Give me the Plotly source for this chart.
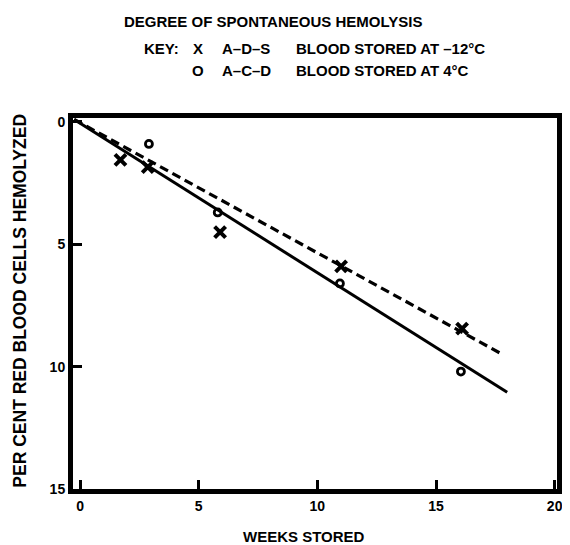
import plotly.graph_objects as go

# Data
ads_weeks = [1.7, 2.85, 5.9, 11.0, 16.1]
ads_hemolysis = [1.55, 1.85, 4.5, 5.9, 8.45]
acd_weeks = [2.9, 5.8, 10.95, 16.05]
acd_hemolysis = [0.9, 3.7, 6.6, 10.2]

ads_fit_weeks = [-0.25, 17.8]
ads_fit_values = [-0.1, 9.5]
acd_fit_weeks = [-0.25, 18.0]
acd_fit_values = [-0.1, 11.05]

x_ticks = [0, 5, 10, 15, 20]
y_ticks = [0, 5, 10, 15]

FONT = "Liberation Sans"
fig = go.Figure()

fig.add_trace(go.Scatter(x=ads_fit_weeks, y=ads_fit_values, mode="lines",
                         line=dict(color="black", width=3.2, dash="9px,5px"),
                         showlegend=False, hoverinfo="skip"))
fig.add_trace(go.Scatter(x=acd_fit_weeks, y=acd_fit_values, mode="lines",
                         line=dict(color="black", width=3),
                         showlegend=False, hoverinfo="skip"))
fig.add_trace(go.Scatter(x=ads_weeks, y=ads_hemolysis, mode="markers",
                         marker=dict(symbol="x-thin", size=11,
                                     line=dict(color="black", width=4)),
                         showlegend=False))
fig.add_trace(go.Scatter(x=acd_weeks, y=acd_hemolysis, mode="markers",
                         marker=dict(symbol="circle-open", size=7, color="black",
                                     line=dict(color="black", width=2.8)),
                         showlegend=False))

tickfont = dict(family=FONT, size=14, color="black", weight="bold")
fig.update_xaxes(range=[-0.3, 20.1], tickvals=x_ticks, ticktext=[str(v) for v in x_ticks],
                 showgrid=False, zeroline=False, showline=True, linecolor="black",
                 linewidth=5, mirror=True, ticks="inside", ticklen=9, tickwidth=3,
                 tickcolor="black", tickfont=tickfont)
fig.update_yaxes(range=[15, -0.16], tickvals=y_ticks, ticktext=[str(v) for v in y_ticks],
                 showgrid=False, zeroline=False, showline=True, linecolor="black",
                 linewidth=5, mirror=True, ticks="inside", ticklen=9, tickwidth=3,
                 tickcolor="black", tickfont=tickfont)

bold = dict(family=FONT, color="black", weight="bold")
ann = []

# The page body adds an 8px offset; figure is sized so the window matches 570x545
OFF = 8
W, H = 570 - OFF, 545 - OFF
L, R, T, B = 73 - OFF, 7, 118 - OFF, 56
pw, ph = W - L - R, H - T - B

def px(xw):
    return (xw - OFF - L) / pw

def py(yw):
    return (H - B - (yw - OFF)) / ph

def txt(s, x, y, size, xanchor="left", textangle=0):
    ann.append(dict(text=s, x=px(x), y=py(y), xref="paper", yref="paper", showarrow=False,
                    xanchor=xanchor, yanchor="middle", textangle=textangle,
                    font=dict(size=size, **bold)))

txt("DEGREE OF SPONTANEOUS HEMOLYSIS", 123, 21, 15)
txt("KEY:", 143, 49, 15)
txt("X", 200, 49, 15, xanchor="center")
txt("A–D–S", 222, 49, 15)
txt("BLOOD STORED AT –12°C", 297, 49, 15)
txt("O", 200, 71, 15, xanchor="center")
txt("A–C–D", 222, 71, 15)
txt("BLOOD STORED AT 4°C", 297, 71, 15)
txt("WEEKS STORED", 307, 536, 15, xanchor="center")
txt("PER CENT RED BLOOD CELLS HEMOLYZED", 19, 301, 17.5,
    xanchor="center", textangle=-90)

fig.update_layout(width=W, height=H, margin=dict(l=L, r=R, t=T, b=B),
                  plot_bgcolor="white", paper_bgcolor="white",
                  annotations=ann, showlegend=False)

fig.write_html("out.html")
